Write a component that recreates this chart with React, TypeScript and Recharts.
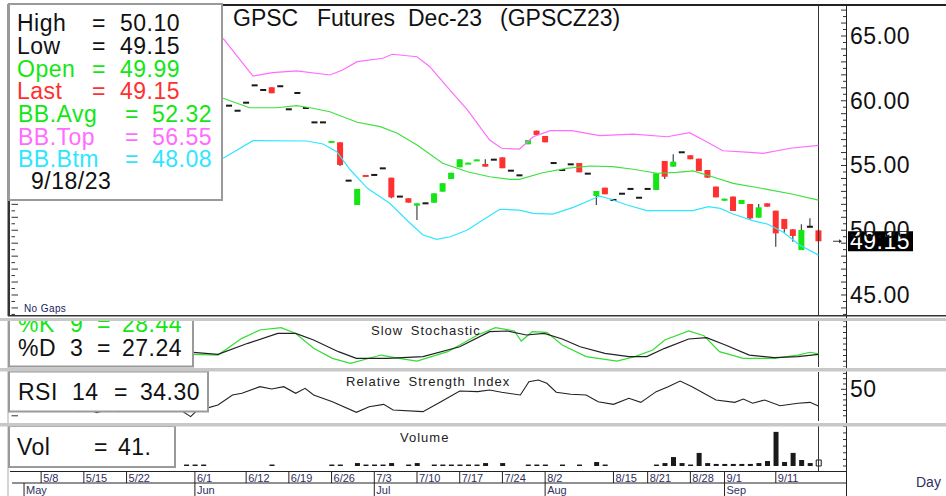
import React from "react";
import { ComposedChart, Bar, Line, XAxis, YAxis, ReferenceLine, Cell } from "recharts";

const FONT = "'Liberation Sans', Arial, Helvetica, sans-serif";

// session slots: 0 = first session on the chart, 94 = 9/18/23
const FIRST_BAR = 25;
const opens = [
  59.62, 59.23, 59.85, 61.19, 60.83, 61.04, 61.12, 59.34, 60.6, 59.44,
  58.33, 58.33, 56.78, 56.79, 53.83, 51.95, 54.27, 54.27, 54.78, 54.06,
  52.6, 52.47, 51.9, 52.08, 52.13, 52.98, 53.96, 54.86, 55.12, 55.37,
  55.12, 55.45, 55.63, 54.6, 54.24, 56.64, 57.69, 57.28, 55.19, 54.65,
  55.09, 55.19, 54.37, 52.64, 53.29, 52.34, 52.82, 53.19, 52.51, 53.19,
  53.11, 55.35, 54.91, 56.02, 55.79, 55.53, 54.65, 53.37, 52.28, 52.6,
  52.03, 52.03, 50.97, 52.08, 51.51, 50.87, 50.07, 48.47, 50.27, 49.99,
];
const highs = [
  59.62, 59.23, 59.85, 61.19, 60.83, 61.04, 61.12, 59.34, 60.6, 59.44,
  58.33, 58.33, 56.9, 56.79, 53.83, 53.19, 54.27, 54.27, 54.78, 54.06,
  52.6, 52.47, 52.08, 52.08, 52.85, 53.63, 54.44, 55.48, 55.22, 55.47,
  55.48, 55.45, 55.63, 54.6, 54.24, 56.97, 57.69, 57.28, 55.19, 54.65,
  55.09, 55.19, 54.37, 53.03, 53.29, 52.34, 52.82, 53.19, 52.51, 53.19,
  54.4, 55.35, 55.86, 56.02, 55.79, 55.53, 54.65, 53.37, 52.44, 52.6,
  52.34, 52.03, 52.03, 52.08, 51.51, 50.87, 50.07, 50.46, 50.92, 50.1,
];
const lows = [
  59.62, 59.23, 59.85, 61.19, 60.83, 60.58, 61.12, 59.34, 60.6, 59.44,
  58.33, 58.33, 56.78, 54.96, 53.83, 51.95, 54.13, 54.27, 54.78, 52.47,
  52.6, 52.13, 50.79, 52.08, 52.13, 52.98, 53.96, 54.86, 55.12, 55.37,
  54.91, 55.45, 54.79, 54.6, 54.24, 56.64, 57.36, 56.79, 55.19, 54.65,
  55.09, 54.47, 54.37, 51.95, 52.78, 52.34, 52.82, 53.19, 52.51, 53.19,
  53.11, 53.96, 54.91, 56.02, 55.48, 54.57, 54.06, 52.54, 52.28, 51.49,
  52.03, 50.79, 50.97, 51.82, 48.73, 49.81, 49.11, 48.47, 50.27, 49.15,
];
const closes = [
  59.62, 59.23, 59.85, 61.19, 60.83, 60.58, 61.12, 59.34, 60.6, 59.44,
  58.33, 58.33, 56.9, 55.04, 53.83, 53.19, 54.13, 54.27, 54.78, 52.54,
  52.6, 52.13, 52.08, 52.08, 52.85, 53.63, 54.44, 55.48, 55.22, 55.47,
  54.91, 55.45, 54.79, 54.6, 54.24, 56.97, 57.36, 56.79, 55.19, 54.65,
  55.09, 54.47, 54.37, 53.03, 52.78, 52.34, 52.82, 53.19, 52.51, 53.19,
  54.4, 54.13, 55.3, 56.02, 55.48, 54.57, 54.06, 52.54, 52.44, 51.49,
  52.34, 50.92, 51.77, 51.82, 49.76, 50.1, 49.56, 50.02, 50.27, 49.15,
];

// Bollinger bands (slot, price)
const bbTopAt = [24.3, 27.8, 30.1, 32.9, 36.8, 38.3, 40, 43, 44.1, 47, 48.5, 50.5, 52.9, 55.5, 56.9, 59, 60.6, 62.6, 65.1, 68.4, 72.3, 76.3, 78.9, 80.9, 82.8, 86, 87.5, 90.7, 94];
const bbTopVal = [64.82, 61.91, 62.17, 62.3, 61.99, 62.37, 63.02, 63.28, 63.59, 63.4, 62.63, 61.09, 59.29, 56.97, 56.33, 56.27, 57.22, 57.69, 57.69, 57.3, 57.43, 57.22, 57.53, 56.84, 56.14, 56.02, 55.94, 56.33, 56.55];
const bbAvgAt = [24.3, 27.4, 30.6, 32.9, 34.8, 36.8, 40, 42.7, 44.7, 47, 50, 52.9, 55.5, 57.9, 59, 61.7, 64.5, 67.2, 69.9, 72.3, 75.1, 77.4, 79.3, 81.3, 84, 88, 91, 94];
const bbAvgVal = [60.19, 59.46, 59.46, 59.62, 59.42, 59.15, 58.34, 58.0, 57.49, 56.58, 55.17, 54.52, 54.13, 53.93, 53.93, 54.44, 54.78, 54.96, 54.91, 54.71, 54.4, 54.47, 54.58, 54.19, 53.62, 53.16, 52.78, 52.32];
const bbBtmAt = [24.3, 27.8, 34.1, 36, 37.6, 39.2, 41.2, 43.8, 46.2, 47.7, 49.3, 50.9, 52.9, 54.7, 56.7, 59, 60.6, 62.9, 65.3, 68.4, 69.6, 71.6, 73.9, 79.3, 81.1, 82.5, 84, 86.3, 88, 89.8, 91.8, 94];
const bbBtmVal = [55.56, 56.92, 56.89, 56.66, 56.07, 54.65, 53.24, 52.08, 50.54, 49.63, 49.3, 49.5, 50.02, 50.79, 51.62, 51.56, 51.31, 51.25, 51.77, 52.64, 52.41, 51.95, 51.51, 51.51, 51.82, 51.69, 51.25, 50.74, 50.48, 49.89, 48.86, 48.08];

// slow stochastic
const pctKAt = [20.8, 23.7, 26.5, 28.6, 31.1, 32.8, 34.9, 37.1, 39.2, 42.8, 44.9, 47, 50.6, 54.1, 56.2, 58.4, 59.2, 60.5, 62.2, 64, 66.8, 70.4, 72.5, 74.6, 76, 78.8, 80.6, 82.4, 85.2, 88.8, 91.6, 93, 94];
const pctKVal = [27.5, 26, 62.3, 80.4, 85.5, 73, 40.6, 18.8, 8, 26, 18.8, 13, 33.3, 69.6, 85.5, 78.3, 56.5, 76.8, 75.4, 47.8, 22.5, 13, 22.5, 37, 58.7, 78.3, 68, 33.3, 18.8, 18.8, 26, 32, 28.44];
const pctDAt = [20.8, 23.7, 27.2, 30.7, 32.8, 34.9, 37.8, 39.9, 43.5, 47.7, 52, 55.5, 57.6, 59.8, 61.9, 64, 66.1, 69, 71.8, 73.9, 76, 78.8, 80.9, 83.1, 85.9, 88.8, 91.6, 94];
const pctDVal = [32, 27.5, 51.5, 73, 73, 58.7, 33.3, 18.8, 18.8, 22.5, 44, 76.8, 78.3, 69.6, 73.2, 60.9, 44, 29.7, 22.5, 22.5, 40.6, 60.9, 63.8, 47.8, 26, 20.3, 22.5, 27.24];

// RSI 14
const rsiAt = [7.4, 8.5, 9.5, 10.9, 12, 15, 17.5, 19, 20.5, 21.5, 22.3, 23.7, 25.4, 26.5, 28.6, 30, 31.4, 32.8, 33.9, 34.9, 37.1, 39.9, 41.4, 43.1, 44.2, 47.7, 49.8, 52, 54.1, 55.5, 56.9, 59.1, 60.1, 61.2, 62.2, 63.3, 65, 66.8, 68.2, 70, 71.8, 73.2, 75, 76.4, 77.8, 79.2, 82, 84.2, 85.2, 86.3, 87.7, 89.5, 91.6, 93, 94];
const rsiVal = [28.9, 31.1, 27.9, 31.1, 28.9, 38, 35, 32, 24.2, 32, 32, 35.2, 44.6, 46.2, 52.5, 50.3, 52.5, 46.2, 50.9, 44.6, 38.3, 28.3, 33.6, 35.8, 30.5, 28.9, 38.3, 48.4, 47.8, 49.3, 47.2, 44.6, 57.2, 58.8, 55.7, 47.2, 45.3, 44.6, 38.3, 35.8, 41.5, 37.7, 47.8, 52.5, 57.8, 52.5, 39.9, 37.7, 40.8, 36.8, 39.9, 34.5, 36.8, 37.7, 34.3];

// volume
const volAt = [20, 21, 22, 30, 37, 38, 40, 41, 42, 43, 44, 46, 47, 49, 50, 51, 52, 53, 54, 55, 57, 60, 61, 62, 64, 66, 68, 69, 75, 76, 77, 78, 79, 80, 81, 82, 83, 84, 85, 86, 87, 88, 89, 90, 91, 92, 93, 94];
const volVal = [10, 10, 10, 10, 10, 10, 20, 10, 10, 10, 20, 10, 20, 10, 10, 10, 10, 10, 10, 20, 20, 10, 10, 10, 10, 10, 27, 10, 10, 20, 61, 20, 10, 89, 20, 14, 14, 14, 14, 14, 20, 34, 232, 27, 89, 41, 20, 41];

// date axis
const weekTickAt = [3, 8, 13, 21, 27, 32, 37, 42, 47, 52, 57, 62, 70, 74, 79, 83, 89];
const weekTickLabels = ["5/8", "5/15", "5/22", "6/1", "6/12", "6/19", "6/26", "7/3", "7/10", "7/17", "7/24", "8/2", "8/15", "8/21", "8/28", "9/1", "9/11"];
const monthTickAt = [1, 21, 42, 62, 83];
const monthLabels = ["May", "Jun", "Jul", "Aug", "Sep"];

const LAST_PRICE = 49.15;
const LAST_SLOT = 94;

const candles = opens.map((o, k) => ({ i: FIRST_BAR + k, o, h: highs[k], l: lows[k], c: closes[k] }));
const points = (at: number[], val: number[]) => at.map((i, k) => ({ i, v: val[k] }));
const bbTop = points(bbTopAt, bbTopVal);
const bbAvg = points(bbAvgAt, bbAvgVal);
const bbBtm = points(bbBtmAt, bbBtmVal);
const pctK = points(pctKAt, pctKVal);
const pctD = points(pctDAt, pctDVal);
const rsi = points(rsiAt, rsiVal);
const volume = points(volAt, volVal);

const X_DOMAIN: [number, number] = [-0.644, 97.336];
const PRICE_DOMAIN: [number, number] = [43.378, 67.394];
const RSI_DOMAIN: [number, number] = [20.09, 66.32];
const VOL_DOMAIN: [number, number] = [-40.8, 272];

const steps = (from: number, to: number, step: number) => {
  const out: number[] = [];
  for (let v = from; v <= to + 1e-9; v += step) out.push(Math.round(v * 100) / 100);
  return out;
};
const priceTicks = steps(43.5, 67, 0.5);
const stochTicks = steps(0, 100, 12.5);
const rsiTicks = steps(25, 65, 5);
const volTicks = steps(0, 270, 45);
const dateTicks = Array.from(new Set([...weekTickAt, ...monthTickAt])).sort((a, b) => a - b);

const GREEN = "#14e614";
const RED = "#ff3030";
const PINK = "#ff6cff";
const CYAN = "#2ee6ff";
const INK = "#1a1a1a";
const BODY_W = 6;

const Candle = (props: any) => {
  const { x, y, width, height, payload } = props;
  const { o, h, l, c } = payload;
  const k = h > l ? height / (h - l) : 0;
  const py = (v: number) => y + (h - v) * k;
  const cx = x + width / 2;
  const bx = cx - BODY_W / 2;
  const top = py(Math.max(o, c));
  const bottom = py(Math.min(o, c));
  return (
    <g>
      {h > l && <line x1={cx} x2={cx} y1={py(h)} y2={py(l)} stroke="#444" strokeWidth={1.2} />}
      {o === c ? (
        <rect x={bx} y={top - 1} width={BODY_W} height={2} fill={INK} />
      ) : (
        <rect x={bx} y={top} width={BODY_W} height={Math.max(bottom - top, 2)} fill={c > o ? GREEN : RED} />
      )}
    </g>
  );
};

const priceRightTick = (p: any) => {
  const v = p.payload.value;
  const whole = Math.abs(v - Math.round(v)) < 0.01;
  const labelled = whole && Math.round(v) % 5 === 0;
  return (
    <g>
      <line x1={p.x - (whole ? 6 : 4)} x2={p.x} y1={p.y} y2={p.y} stroke="#333" />
      {labelled && (
        <text x={p.x + 3} y={p.y + 8} fontSize={23} letterSpacing={0.5} fill="#111" fontFamily={FONT}>
          {v.toFixed(2)}
        </text>
      )}
    </g>
  );
};

const leftTick = (p: any) => {
  const v = p.payload.value;
  const whole = Math.abs(v - Math.round(v)) < 0.01;
  return <line x1={p.x + 1.5} x2={p.x + (whole ? 8 : 5)} y1={p.y} y2={p.y} stroke="#333" />;
};

const plainRightTick = (p: any) => <line x1={p.x - 4} x2={p.x} y1={p.y} y2={p.y} stroke="#333" />;

const rsiRightTick = (p: any) => {
  const v = p.payload.value;
  return (
    <g>
      <line x1={p.x - (v === 50 ? 6 : 4)} x2={p.x} y1={p.y} y2={p.y} stroke="#333" />
      {v === 50 && (
        <text x={p.x + 3} y={p.y + 8} fontSize={23} letterSpacing={0.5} fill="#111" fontFamily={FONT}>
          50
        </text>
      )}
    </g>
  );
};

const dateTick = (p: any) => {
  const i = p.payload.value;
  const w = weekTickAt.indexOf(i);
  const m = monthTickAt.indexOf(i);
  return (
    <g fontFamily={FONT} fontSize={11} fill="#303060">
      {w >= 0 && <line x1={p.x} x2={p.x} y1={p.y} y2={p.y + 11} stroke="#222" />}
      {w >= 0 && <text x={p.x + 2} y={p.y + 10}>{weekTickLabels[w]}</text>}
      {m >= 0 && <line x1={p.x} x2={p.x} y1={p.y + 11} y2={p.y + 24} stroke="#222" />}
      {m >= 0 && <text x={p.x + 2} y={p.y + 22}>{monthLabels[m]}</text>}
    </g>
  );
};

const LastPriceTag = (props: any) => {
  const vb = props.viewBox || {};
  const right = vb.x + vb.width;
  const y = vb.y;
  return (
    <g>
      <line x1={right - 14} x2={right - 8} y1={y} y2={y} stroke="#333" />
      <path d={`M${right - 8} ${y - 2} L${right - 5} ${y} L${right - 8} ${y + 2} Z`} fill="#333" />
      <rect x={right + 1} y={y - 10} width={65} height={20} fill="#000" />
      <text x={right + 3} y={y + 8} fontSize={23} letterSpacing={0.5} fill="#fff" fontFamily={FONT}>
        {LAST_PRICE.toFixed(2)}
      </text>
    </g>
  );
};

const PriceChart = () => (
  <ComposedChart width={946} height={311} data={candles} margin={{ top: 0, right: 0, bottom: 0, left: 8 }}>
    <XAxis dataKey="i" type="number" domain={X_DOMAIN} allowDataOverflow hide />
    <YAxis yAxisId="l" orientation="left" type="number" width={2} domain={PRICE_DOMAIN} allowDataOverflow ticks={priceTicks} interval={0} tick={leftTick} tickLine={false} axisLine={false} tickSize={0} tickMargin={0} />
    <YAxis yAxisId="r" orientation="right" type="number" width={99} domain={PRICE_DOMAIN} allowDataOverflow ticks={priceTicks} interval={0} tick={priceRightTick} tickLine={false} axisLine={false} tickSize={0} tickMargin={0} />
    <ReferenceLine yAxisId="r" x={LAST_SLOT} stroke="#333" />
    <Line yAxisId="r" data={bbTop} dataKey="v" type="linear" stroke={PINK} strokeWidth={1.2} dot={false} activeDot={false} isAnimationActive={false} />
    <Line yAxisId="r" data={bbAvg} dataKey="v" type="linear" stroke="#3ee03e" strokeWidth={1.2} dot={false} activeDot={false} isAnimationActive={false} />
    <Line yAxisId="r" data={bbBtm} dataKey="v" type="linear" stroke={CYAN} strokeWidth={1.2} dot={false} activeDot={false} isAnimationActive={false} />
    <Bar yAxisId="r" dataKey={(d: any) => [d.l, d.h]} barSize={6} shape={(p: any) => <Candle {...p} />} isAnimationActive={false} />
    <ReferenceLine yAxisId="r" y={LAST_PRICE} stroke="none" label={<LastPriceTag />} />
  </ComposedChart>
);

const StochChart = () => (
  <ComposedChart width={946} height={46} margin={{ top: 0, right: 0, bottom: 0, left: 10 }}>
    <XAxis dataKey="i" type="number" domain={X_DOMAIN} allowDataOverflow hide />
    <YAxis yAxisId="r" orientation="right" type="number" width={99} domain={[0, 100]} allowDataOverflow ticks={stochTicks} interval={0} tick={plainRightTick} tickLine={false} axisLine={false} tickSize={0} tickMargin={0} />
    <ReferenceLine yAxisId="r" x={LAST_SLOT} stroke="#333" />
    <Line yAxisId="r" data={pctK} dataKey="v" type="linear" stroke="#33dd33" strokeWidth={1.2} dot={false} activeDot={false} isAnimationActive={false} />
    <Line yAxisId="r" data={pctD} dataKey="v" type="linear" stroke="#222" strokeWidth={1.2} dot={false} activeDot={false} isAnimationActive={false} />
  </ComposedChart>
);

const RsiChart = () => (
  <ComposedChart width={946} height={49} margin={{ top: 0, right: 0, bottom: 0, left: 8 }}>
    <XAxis dataKey="i" type="number" domain={X_DOMAIN} allowDataOverflow hide />
    <YAxis yAxisId="l" orientation="left" type="number" width={2} domain={RSI_DOMAIN} allowDataOverflow ticks={rsiTicks} interval={0} tick={leftTick} tickLine={false} axisLine={false} tickSize={0} tickMargin={0} />
    <YAxis yAxisId="r" orientation="right" type="number" width={99} domain={RSI_DOMAIN} allowDataOverflow ticks={rsiTicks} interval={0} tick={rsiRightTick} tickLine={false} axisLine={false} tickSize={0} tickMargin={0} />
    <ReferenceLine yAxisId="r" x={LAST_SLOT} stroke="#333" />
    <Line yAxisId="r" data={rsi} dataKey="v" type="linear" stroke="#222" strokeWidth={1.1} dot={false} activeDot={false} isAnimationActive={false} />
  </ComposedChart>
);

const VolumeChart = () => (
  <ComposedChart width={946} height={70} data={volume} margin={{ top: 0, right: 0, bottom: 0, left: 10 }}>
    <XAxis dataKey="i" type="number" domain={X_DOMAIN} allowDataOverflow ticks={dateTicks} interval={0} tick={dateTick} height={24} tickLine={false} axisLine={false} tickSize={0} tickMargin={0} />
    <YAxis yAxisId="r" orientation="right" type="number" width={99} domain={VOL_DOMAIN} allowDataOverflow ticks={volTicks} interval={0} tick={plainRightTick} tickLine={false} axisLine={false} tickSize={0} tickMargin={0} />
    <ReferenceLine yAxisId="r" x={LAST_SLOT} stroke="#333" />
    <Bar yAxisId="r" dataKey="v" barSize={5} fill={INK} isAnimationActive={false}>
      {volume.map((d) => (
        <Cell key={d.i} fill={d.i === LAST_SLOT ? "#fff" : INK} stroke={INK} strokeWidth={d.i === LAST_SLOT ? 1 : 0} />
      ))}
    </Bar>
  </ComposedChart>
);

const T = (props: any) => <text fontFamily={FONT} fontSize={23} letterSpacing={0.5} {...props} />;

const Overlay = () => (
  <svg width={946} height={496} style={{ position: "absolute", left: 0, top: 0, pointerEvents: "none" }}>
    <defs>
      <clipPath id="stochPanel">
        <rect x={0} y={321} width={946} height={47} />
      </clipPath>
    </defs>
    {/* frame */}
    <rect x={8} y={4} width={938} height={2} fill="#222" />
    <rect x={7.5} y={4} width={2.5} height={312} fill="#333" />
    <line x1={846.5} x2={846.5} y1={4} y2={496} stroke="#222" />
    <line x1={8} x2={8} y1={321} y2={496} stroke="#aaa" />
    <line x1={10} x2={847} y1={471.5} y2={471.5} stroke="#222" />
    <line x1={12} x2={847} y1={483} y2={483} stroke="#222" />

    {/* titles */}
    <T x={233} y={26} letterSpacing={0} fill="#111">GPSC</T>
    <T x={317} y={26} letterSpacing={0} fill="#111">Futures</T>
    <T x={408} y={26} letterSpacing={0} fill="#111">Dec-23</T>
    <T x={500} y={26} letterSpacing={0} fill="#111">(GPSCZ23)</T>
    <T x={24} y={312} fontSize={10} letterSpacing={0.4} fill="#202060">No Gaps</T>
    <T x={371} y={335} fontSize={13} letterSpacing={1} wordSpacing={3} fill="#222">Slow Stochastic</T>
    <T x={346} y={386} fontSize={13} letterSpacing={1} wordSpacing={3} fill="#222">Relative Strength Index</T>
    <T x={400} y={442} fontSize={13} letterSpacing={1} fill="#222">Volume</T>
    <T x={916} y={487} fontSize={14} letterSpacing={0} fill="#303060">Day</T>

    {/* price legend */}
    <rect x={9} y={4} width={213} height={196} fill="#fff" stroke="#9a9a9a" strokeWidth={2} />
    <T x={17} y={31} fill="#111">High</T>
    <T x={92} y={31} fill="#111">=</T>
    <T x={120} y={31} fill="#111">50.10</T>
    <T x={17} y={54} fill="#111">Low</T>
    <T x={92} y={54} fill="#111">=</T>
    <T x={120} y={54} fill="#111">49.15</T>
    <T x={17} y={77} fill={GREEN}>Open</T>
    <T x={92} y={77} fill={GREEN}>=</T>
    <T x={120} y={77} fill={GREEN}>49.99</T>
    <T x={17} y={99} fill={RED}>Last</T>
    <T x={92} y={99} fill={RED}>=</T>
    <T x={120} y={99} fill={RED}>49.15</T>
    <T x={18} y={122} fill={GREEN}>BB.Avg</T>
    <T x={125} y={122} fill={GREEN}>=</T>
    <T x={152} y={122} fill={GREEN}>52.32</T>
    <T x={18} y={145} fill={PINK}>BB.Top</T>
    <T x={125} y={145} fill={PINK}>=</T>
    <T x={152} y={145} fill={PINK}>56.55</T>
    <T x={18} y={167} fill={CYAN}>BB.Btm</T>
    <T x={125} y={167} fill={CYAN}>=</T>
    <T x={152} y={167} fill={CYAN}>48.08</T>
    <T x={31} y={189} fill="#111">9/18/23</T>

    {/* stochastic legend, its top cut by the panel edge */}
    <g clipPath="url(#stochPanel)">
      <rect x={9} y={316} width={184} height={50.5} fill="#fff" stroke="#9a9a9a" strokeWidth={2} />
      <T x={18} y={332} fill={GREEN}>%K</T>
      <T x={70} y={332} fill={GREEN}>9</T>
      <T x={97} y={332} fill={GREEN}>=</T>
      <T x={122} y={332} fill={GREEN}>28.44</T>
      <T x={18} y={356} fill="#111">%D</T>
      <T x={70} y={356} fill="#111">3</T>
      <T x={97} y={356} fill="#111">=</T>
      <T x={122} y={356} fill="#111">27.24</T>
    </g>

    {/* rsi legend */}
    <rect x={9} y={371.5} width={199} height={40} fill="#fff" stroke="#9a9a9a" strokeWidth={2} />
    <T x={18} y={400} fill="#111">RSI</T>
    <T x={72} y={400} fill="#111">14</T>
    <T x={114} y={400} fill="#111">=</T>
    <T x={140} y={400} fill="#111">34.30</T>

    {/* volume legend */}
    <rect x={9} y={426} width={166} height={41} fill="#fff" stroke="#9a9a9a" strokeWidth={2} />
    <T x={17} y={455} fill="#111">Vol</T>
    <T x={94} y={455} fill="#111">=</T>
    <T x={118} y={455} fill="#111">41.</T>

    {/* panel separators */}
    <rect x={8} y={315} width={938} height={1.5} fill="#333" />
    <rect x={0} y={318} width={946} height={3} fill="#c8c8c8" />
    <rect x={0} y={368} width={946} height={3.5} fill="#c8c8c8" />
    <rect x={0} y={423} width={946} height={3.5} fill="#c8c8c8" />
  </svg>
);

export default function App() {
  return (
    <div style={{ position: "absolute", left: 0, top: 0, width: 946, height: 496, background: "#fff", overflow: "hidden", fontFamily: FONT }}>
      <div style={{ position: "absolute", left: 0, top: 5 }}>
        <PriceChart />
      </div>
      <div style={{ position: "absolute", left: 0, top: 321 }}>
        <StochChart />
      </div>
      <div style={{ position: "absolute", left: 0, top: 372 }}>
        <RsiChart />
      </div>
      <div style={{ position: "absolute", left: 0, top: 426 }}>
        <VolumeChart />
      </div>
      <Overlay />
    </div>
  );
}
